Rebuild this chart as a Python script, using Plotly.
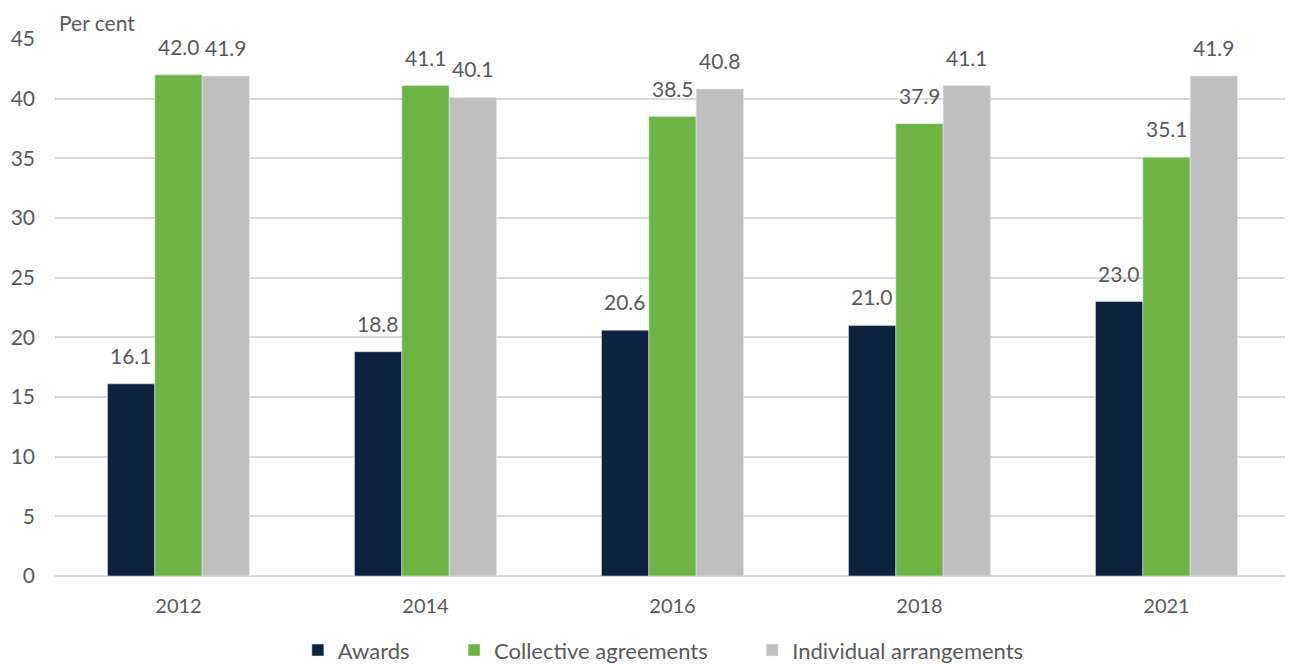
import plotly.graph_objects as go

# Data
years = ["2012", "2014", "2016", "2018", "2021"]
awards = [16.1, 18.8, 20.6, 21.0, 23.0]
collective = [42.0, 41.1, 38.5, 37.9, 35.1]
individual = [41.9, 40.1, 40.8, 41.1, 41.9]

series = [
    ("Awards", awards, "#0e2240"),
    ("Collective agreements", collective, "#6cb545"),
    ("Individual arrangements", individual, "#bfbfbf"),
]

txt_color = "#595959"
fnt = "Lato"
bargap = 0.425
bw = (1 - bargap) / len(series)  # bar width in category units
pads = ["\u00a0" * 7, "\u00a0" * 7, ""]  # extra room between legend entries

fig = go.Figure()
annots = []
for k, (name, vals, col) in enumerate(series):
    fig.add_trace(go.Bar(x=years, y=vals, name=name + pads[k], marker_color=col))
    # value labels above each bar (category axis -> index positions)
    for i, v in enumerate(vals):
        annots.append(dict(x=i + (k - 1) * bw, y=v, xref="x", yref="y", text=f"{v:.1f}",
                           showarrow=False, yanchor="bottom", yshift=14,
                           font=dict(family=fnt, size=21, color=txt_color)))

annots.append(dict(text="Per cent", x=0, xref="paper", xanchor="left", xshift=2,
                   y=1, yref="paper", yanchor="bottom", yshift=2, showarrow=False,
                   font=dict(family=fnt, size=21, color=txt_color)))

# page body has an 8px margin, so the figure is a bit smaller than the window
fig.update_layout(
    width=1285, height=656,
    paper_bgcolor="white", plot_bgcolor="white",
    font=dict(family=fnt, size=20, color=txt_color),
    barmode="group", bargap=bargap, bargroupgap=0,
    margin=dict(l=47, r=3, t=31, b=88),
    showlegend=True,
    legend=dict(orientation="h", x=0.51, xref="container", xanchor="center",
                y=0.021, yref="container", yanchor="middle",
                font=dict(family=fnt, size=22, color=txt_color),
                itemwidth=30, tracegroupgap=0),
    yaxis=dict(range=[0, 45], dtick=5, showgrid=True, gridcolor="#d9d9d9", gridwidth=1.5,
               zeroline=True, zerolinecolor="#d9d9d9", zerolinewidth=1.5,
               showline=False, ticks="", ticklabelstandoff=19, automargin=False,
               tickfont=dict(size=21)),
    xaxis=dict(type="category", range=[-0.5, len(years) - 0.5], showline=False,
               ticks="", ticklabelstandoff=16, automargin=False),
    annotations=annots,
)

fig.write_html("out.html")
